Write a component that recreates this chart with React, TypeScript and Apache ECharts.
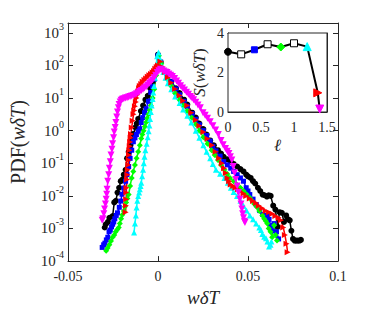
import React, { useEffect, useRef } from "react";
import * as echarts from "echarts";

// ---- data: [wδT, log10 PDF] ----
const blackPts: [number, number][] = [
  [-0.0296,-2.97],[-0.029,-2.87],[-0.0278,-2.8],[-0.027,-2.67],[-0.0252,-2.62],[-0.0243,-2.2],[-0.0234,-2.15],[-0.0225,-1.9],[-0.0216,-1.75],[-0.0207,-1.55],[-0.0198,-1.5],[-0.019,-1.35],[-0.018,-1.2],[-0.0172,-0.85],[-0.0163,-0.65],[-0.0155,-0.45],[-0.0146,-0.28],[-0.0137,-0.1],[-0.0125,0.1],[-0.0118,0.22],[-0.011,0.36],[-0.0095,0.6],[-0.0083,0.77],[-0.007,0.95],[-0.0057,1.07],[-0.0043,1.3],[-0.003,1.48],[-0.0015,1.85],[0,2.33],
  [0.0015,2.1],[0.004,1.8],[0.0074,1.5],[0.01,1.3],[0.012,1.15],[0.0145,0.95],[0.0163,0.8],[0.019,0.55],[0.021,0.4],[0.023,0.22],[0.0252,0.05],[0.027,-0.12],[0.029,-0.3],[0.031,-0.45],[0.0333,-0.6],[0.035,-0.7],[0.0365,-0.8],[0.0385,-0.88],[0.0404,-0.95],[0.042,-1.02],[0.044,-1.1],[0.0458,-1.18],[0.0475,-1.25],[0.049,-1.35],[0.05,-1.4],[0.0515,-1.45],[0.0528,-1.55],[0.054,-1.62],[0.0555,-1.75],[0.0568,-1.85],[0.0581,-1.96],[0.0592,-1.98],[0.0605,-2.02],[0.0615,-1.98],[0.0626,-2.0],[0.064,-2.3],[0.0652,-2.42],[0.0665,-2.95],[0.0675,-2.5],[0.0688,-2.52],[0.07,-2.8],[0.0712,-2.6],[0.0723,-2.72],[0.0732,-2.75],[0.0741,-3.07],[0.075,-3.32],[0.0759,-3.37],[0.0768,-3.37],[0.0777,-3.37],[0.0786,-3.37],[0.0794,-3.35],
];
const bluePts: [number, number][] = [
  [-0.031,-3.58],[-0.0302,-3.5],[-0.0295,-3.45],[-0.0287,-3.35],[-0.0279,-3.27],[-0.0272,-3.1],[-0.0265,-3.05],[-0.0258,-2.95],[-0.0252,-2.87],[-0.0246,-2.8],[-0.024,-2.7],[-0.0232,-2.6],[-0.0225,-2.52],[-0.0215,-2.35],[-0.0207,-2.16],[-0.02,-1.95],[-0.019,-1.76],[-0.018,-1.55],[-0.0172,-1.35],[-0.0163,-1.1],[-0.0155,-0.85],[-0.0146,-0.6],[-0.0137,-0.34],[-0.0128,-0.22],[-0.012,-0.12],[-0.011,-0.02],[-0.0101,0.06],[-0.0093,0.25],[-0.0085,0.4],[-0.0075,0.55],[-0.0066,0.67],[-0.0053,0.9],[-0.004,1.17],[-0.003,1.35],[-0.002,1.58],[-0.001,1.9],[0,2.3],
  [0.0015,2.1],[0.004,1.8],[0.0074,1.5],[0.01,1.28],[0.012,1.1],[0.0145,0.9],[0.0163,0.75],[0.019,0.52],[0.021,0.35],[0.023,0.18],[0.0252,0.0],[0.027,-0.15],[0.029,-0.32],[0.0305,-0.48],[0.0322,-0.62],[0.0345,-0.78],[0.0365,-0.95],[0.0385,-1.05],[0.0404,-1.15],[0.042,-1.25],[0.044,-1.35],[0.0458,-1.45],[0.0475,-1.55],[0.049,-1.75],[0.05,-1.85],[0.051,-1.96],[0.0528,-2.1],[0.0546,-2.27],[0.0565,-2.45],[0.0581,-2.57],[0.06,-2.65],[0.0608,-2.6],[0.0617,-2.72],[0.0625,-2.9],[0.0634,-3.07],[0.0645,-2.85],[0.0658,-3.1],[0.067,-3.32],
];
const greenPts: [number, number][] = [
  [-0.0288,-3.68],[-0.028,-3.6],[-0.027,-3.5],[-0.0261,-3.38],[-0.0252,-3.27],[-0.0243,-3.2],[-0.0235,-3.1],[-0.0226,-3.03],[-0.0218,-2.97],[-0.0212,-2.85],[-0.0205,-2.7],[-0.0198,-2.58],[-0.019,-2.46],[-0.0184,-2.33],[-0.0177,-2.2],[-0.017,-2.08],[-0.0163,-1.96],[-0.0155,-1.7],[-0.0146,-1.45],[-0.0137,-1.25],[-0.0128,-1.05],[-0.0119,-0.85],[-0.011,-0.65],[-0.0101,-0.45],[-0.0093,-0.24],[-0.0087,-0.12],[-0.008,0.0],[-0.0073,0.13],[-0.0066,0.26],[-0.006,0.38],[-0.0053,0.5],[-0.0046,0.63],[-0.004,0.77],[-0.003,1.0],[-0.0021,1.27],[-0.001,1.7],[0.0005,2.3],
  [0.0018,2.05],[0.003,1.85],[0.005,1.6],[0.0074,1.37],[0.0095,1.15],[0.012,0.95],[0.0142,0.78],[0.0163,0.6],[0.0187,0.4],[0.021,0.2],[0.023,0.0],[0.0252,-0.2],[0.0275,-0.4],[0.0298,-0.6],[0.0315,-0.75],[0.0333,-0.9],[0.035,-1.05],[0.0369,-1.2],[0.0385,-1.33],[0.04,-1.45],[0.042,-1.55],[0.0439,-1.66],[0.0458,-1.75],[0.0475,-1.85],[0.0492,-1.95],[0.051,-2.06],[0.0522,-2.15],[0.0535,-2.25],[0.055,-2.35],[0.0563,-2.46],[0.058,-2.6],[0.059,-2.7],[0.0599,-2.77],[0.0607,-2.85],[0.0615,-3.0],[0.0625,-3.1],[0.0634,-3.27],[0.0645,-2.9],[0.0653,-3.2],[0.0661,-3.37],
];
const cyanPts: [number, number][] = [
  [-0.0133,-3.12],[-0.0128,-2.85],[-0.0123,-2.6],[-0.0119,-2.36],[-0.0115,-2.15],[-0.011,-2.0],[-0.0105,-1.9],[-0.0101,-1.8],[-0.0097,-1.7],[-0.0093,-1.6],[-0.0088,-1.4],[-0.0083,-1.2],[-0.0079,-1.0],[-0.0075,-0.8],[-0.007,-0.6],[-0.0063,-0.4],[-0.0057,-0.2],[-0.0052,-0.02],[-0.0048,0.16],[-0.0044,0.36],[-0.004,0.57],[-0.0035,0.77],[-0.003,0.97],[-0.0026,1.17],[-0.0022,1.37],[-0.0017,1.62],[-0.0013,1.88],[-0.0005,2.28],[0.0003,2.4],
  [0.0012,2.2],[0.002,1.98],[0.003,1.8],[0.0042,1.62],[0.0055,1.45],[0.0074,1.27],[0.0095,1.05],[0.012,0.85],[0.014,0.65],[0.0163,0.46],[0.0185,0.25],[0.021,0.0],[0.023,-0.22],[0.0252,-0.45],[0.027,-0.65],[0.029,-0.85],[0.0305,-1.02],[0.0322,-1.2],[0.0345,-1.32],[0.0369,-1.45],[0.0388,-1.6],[0.0405,-1.75],[0.042,-1.88],[0.0439,-2.0],[0.0458,-2.15],[0.0475,-2.3],[0.0492,-2.45],[0.051,-2.6],[0.0528,-2.72],[0.0545,-2.85],[0.0563,-2.97],[0.0572,-3.05],[0.058,-3.17],[0.059,-3.25],[0.06,-3.3],[0.0608,-3.4],[0.0617,-3.55],[0.0625,-3.5],[0.063,-3.4],
];
const redPts: [number, number][] = [
  [-0.018,-2.5],[-0.0178,-2.3],[-0.0177,-2.1],[-0.0176,-1.9],[-0.0175,-1.75],[-0.0172,-1.5],[-0.017,-1.35],[-0.0168,-1.2],[-0.0165,-1.05],[-0.0163,-0.9],[-0.0161,-0.75],[-0.0159,-0.6],[-0.0157,-0.48],[-0.0155,-0.35],[-0.0152,-0.22],[-0.015,-0.1],[-0.0146,0.1],[-0.0141,0.3],[-0.0136,0.5],[-0.0132,0.62],[-0.0128,0.75],[-0.0123,0.88],[-0.0119,1.0],[-0.0115,1.1],[-0.011,1.2],[-0.0105,1.3],[-0.0101,1.37],[-0.0093,1.43],[-0.0085,1.5],[-0.0075,1.55],[-0.0066,1.6],[-0.0057,1.65],[-0.0048,1.7],[-0.0039,1.74],[-0.003,1.78],[-0.0022,1.83],[-0.0015,1.9],[-0.0007,1.95],[0,2.0],[0.0014,2.12],
  [0.0025,1.95],[0.004,1.8],[0.0055,1.63],[0.0074,1.47],[0.0095,1.28],[0.012,1.08],[0.014,0.92],[0.0163,0.77],[0.0185,0.55],[0.021,0.33],[0.023,0.15],[0.0252,-0.04],[0.0275,-0.25],[0.03,-0.45],[0.032,-0.65],[0.034,-0.85],[0.0355,-1.0],[0.0367,-1.15],[0.0377,-1.3],[0.0386,-1.45],[0.0395,-1.55],[0.0404,-1.65],[0.0418,-1.7],[0.043,-1.75],[0.0444,-1.8],[0.0457,-1.86],[0.0475,-1.93],[0.049,-2.0],[0.051,-2.08],[0.0528,-2.16],[0.0545,-2.22],[0.056,-2.3],[0.058,-2.38],[0.0599,-2.46],[0.0617,-2.5],[0.0635,-2.55],[0.0652,-2.62],[0.067,-2.67],[0.0683,-2.75],[0.0696,-2.97],[0.0705,-3.2],[0.0714,-3.47],[0.072,-3.73],
];
const magentaPts: [number, number][] = [
  [-0.031,-2.75],[-0.0306,-2.7],[-0.0301,-2.55],[-0.0297,-2.4],[-0.0292,-2.25],[-0.0288,-2.1],[-0.0285,-1.95],[-0.0283,-1.8],[-0.0279,-1.55],[-0.0274,-1.35],[-0.027,-1.15],[-0.0265,-0.95],[-0.0261,-0.75],[-0.0256,-0.57],[-0.0252,-0.4],[-0.0247,-0.22],[-0.0243,-0.04],[-0.0238,0.1],[-0.0234,0.25],[-0.0229,0.42],[-0.0225,0.57],[-0.022,0.7],[-0.0216,0.8],[-0.021,0.88],[-0.0205,0.93],[-0.0198,0.96],[-0.019,0.98],[-0.0181,1.0],[-0.0172,1.01],[-0.0163,1.03],[-0.0155,1.05],[-0.0146,1.06],[-0.0137,1.08],[-0.0128,1.1],[-0.0119,1.13],[-0.011,1.16],[-0.0101,1.2],[-0.0092,1.23],[-0.0083,1.27],[-0.0075,1.31],[-0.0066,1.35],[-0.0057,1.4],[-0.0048,1.45],[-0.0039,1.5],[-0.003,1.55],[-0.0022,1.62],[-0.0013,1.7],[-0.0004,1.78],[0.0005,1.84],[0.0014,1.88],
  [0.0023,1.86],[0.0032,1.83],[0.0041,1.8],[0.005,1.78],[0.006,1.74],[0.007,1.7],[0.008,1.66],[0.0092,1.6],[0.0103,1.52],[0.0114,1.45],[0.0125,1.38],[0.0136,1.31],[0.0147,1.25],[0.0158,1.18],[0.0169,1.12],[0.018,1.05],[0.0189,1.0],[0.0198,0.95],[0.021,0.87],[0.0222,0.79],[0.0235,0.7],[0.025,0.55],[0.0262,0.47],[0.0275,0.38],[0.029,0.27],[0.0305,0.15],[0.032,0.02],[0.0335,-0.12],[0.035,-0.3],[0.0362,-0.43],[0.0375,-0.55],[0.0385,-0.63],[0.0394,-0.7],[0.0402,-0.8],[0.041,-0.9],[0.0418,-1.1],[0.0425,-1.3],[0.0432,-1.5],[0.044,-1.7],[0.0447,-1.9],[0.0455,-2.1],[0.0461,-2.25],[0.0466,-2.4],[0.047,-2.55],[0.0475,-2.67],[0.048,-2.78],[0.0483,-2.82],
];

// inset: skewness S(wδT) vs ℓ
const insetEll = [0, 0.2, 0.4, 0.6, 0.8, 1.0, 1.2, 1.36, 1.39];
const insetS = [3.05, 2.92, 3.15, 3.43, 3.29, 3.48, 3.31, 0.97, 0.15];

const xTicks = { min: -0.05, max: 0.1, interval: 0.05 };
const yRange = { min: 1e-4, max: 2000 };

const FONT = "'Liberation Serif', 'DejaVu Serif', serif";
const AX = "#262626";

const toPdf = (pts: [number, number][]) => pts.map(([x, l]) => [x, Math.pow(10, l)]);

const insetStyles = [
  { symbol: "circle", color: "#000", border: "#000", size: 7, rot: 0 },
  { symbol: "rect", color: "#fff", border: "#000", size: 7, rot: 0 },
  { symbol: "rect", color: "#0000ff", border: "#0000ff", size: 6, rot: 0 },
  { symbol: "rect", color: "#fff", border: "#000", size: 7, rot: 0 },
  { symbol: "diamond", color: "#00ff00", border: "#00ff00", size: 8, rot: 0 },
  { symbol: "rect", color: "#fff", border: "#000", size: 7, rot: 0 },
  { symbol: "triangle", color: "#00ffff", border: "#00ffff", size: 8, rot: 0 },
  { symbol: "triangle", color: "#ff0000", border: "#ff0000", size: 8, rot: -90 },
  { symbol: "triangle", color: "#ff00ff", border: "#ff00ff", size: 8, rot: 180 },
];

export default function App() {
  const ref = useRef<HTMLDivElement>(null);
  useEffect(() => {
    if (!ref.current) return;
    const chart = echarts.init(ref.current, undefined, { renderer: "svg" });
    const tick = (len: number) => ({ show: true, inside: true, length: len, lineStyle: { color: AX, width: 1 } });
    const line = { show: true, onZero: false, lineStyle: { color: AX, width: 1 } };
    const mkSeries = (name: string, pts: [number, number][], color: string, symbol: string, size: number, rot: number) => ({
      name,
      type: "line",
      xAxisIndex: 0,
      yAxisIndex: 0,
      data: toPdf(pts),
      symbol,
      symbolSize: size,
      symbolRotate: rot,
      showAllSymbol: true,
      lineStyle: { color, width: 1.5 },
      itemStyle: { color, borderColor: color, borderWidth: 0 },
      clip: true,
    });
    chart.setOption({
      animation: false,
      backgroundColor: "#fff",
      textStyle: { fontFamily: FONT },
      grid: [
        { left: 57, right: 36, top: 23, bottom: 48, show: false },
        { left: 228, top: 33, width: 99, height: 79, show: true, backgroundColor: "#fff", borderColor: AX, borderWidth: 1, z: 10 },
      ],
      xAxis: [
        {
          gridIndex: 0, type: "value", ...xTicks, position: "bottom",
          axisLine: line, axisTick: tick(5), splitLine: { show: false },
          axisLabel: { color: "#262626", fontSize: 14, fontFamily: FONT, margin: 8 },
          name: "wδT", nameLocation: "middle", nameGap: 18,
          nameTextStyle: { fontSize: 19, fontStyle: "italic", fontFamily: FONT, color: "#262626" },
        },
        {
          gridIndex: 0, type: "value", ...xTicks, position: "top",
          axisLine: line, axisTick: tick(5), axisLabel: { show: false }, splitLine: { show: false },
        },
        {
          gridIndex: 1, type: "value", min: 0, max: 1.5, interval: 0.5, position: "bottom",
          axisLine: line, axisTick: tick(3), splitLine: { show: false },
          axisLabel: { color: "#262626", fontSize: 14, fontFamily: FONT, margin: 8 },
          name: "ℓ", nameLocation: "middle", nameGap: 25,
          nameTextStyle: { fontSize: 17, fontStyle: "italic", fontFamily: FONT, color: "#262626" },
        },
        {
          gridIndex: 1, type: "value", min: 0, max: 1.5, interval: 0.5, position: "top",
          axisLine: line, axisTick: tick(3), axisLabel: { show: false }, splitLine: { show: false },
        },
      ],
      yAxis: [
        {
          gridIndex: 0, type: "log", logBase: 10, ...yRange, position: "left",
          axisLine: line, axisTick: tick(5), splitLine: { show: false }, minorSplitLine: { show: false },
          axisLabel: {
            showMaxLabel: false,
            margin: 4,
            formatter: (v: number) => {
              const e = Math.log10(v);
              const r = Math.round(e);
              if (Math.abs(e - r) > 0.01) return "";
              return "{b|10}{s|" + r + "}";
            },
            rich: {
              b: { fontSize: 15, fontFamily: FONT, color: "#262626", lineHeight: 15, verticalAlign: "bottom" },
              s: { fontSize: 10, fontFamily: FONT, color: "#262626", lineHeight: 10, verticalAlign: "bottom", padding: [0, 0, 9, 0] },
            },
          },
          name: "{r|PDF(}{i|wδT}{r|)}", nameLocation: "middle", nameGap: 40,
          nameTextStyle: {
            rich: {
              r: { fontSize: 20, fontFamily: FONT, color: "#262626" },
              i: { fontSize: 20, fontFamily: FONT, fontStyle: "italic", color: "#262626" },
            },
          },
        },
        {
          gridIndex: 0, type: "log", logBase: 10, ...yRange, position: "right",
          axisLine: line, axisTick: tick(5), axisLabel: { show: false }, splitLine: { show: false },
        },
        {
          gridIndex: 1, type: "value", min: 0, max: 4, interval: 2, position: "left",
          axisLine: line, axisTick: tick(3), splitLine: { show: false },
          axisLabel: { color: "#262626", fontSize: 14, fontFamily: FONT, margin: 4 },
          name: "{i|S}{r|(}{i|wδT}{r|)}", nameLocation: "middle", nameGap: 20,
          nameTextStyle: {
            rich: {
              r: { fontSize: 17, fontFamily: FONT, color: "#262626" },
              i: { fontSize: 17, fontFamily: FONT, fontStyle: "italic", color: "#262626" },
            },
          },
        },
        {
          gridIndex: 1, type: "value", min: 0, max: 4, interval: 2, position: "right",
          axisLine: line, axisTick: tick(3), axisLabel: { show: false }, splitLine: { show: false },
        },
      ],
      series: [
        mkSeries("black", blackPts, "#000000", "circle", 6, 0),
        mkSeries("blue", bluePts, "#0000ff", "rect", 5, 0),
        mkSeries("green", greenPts, "#00ff00", "diamond", 6, 0),
        mkSeries("cyan", cyanPts, "#00ffff", "triangle", 6, 0),
        mkSeries("red", redPts, "#ff0000", "triangle", 6, -90),
        mkSeries("magenta", magentaPts, "#ff00ff", "triangle", 7, 180),
        {
          name: "skewness",
          type: "line",
          xAxisIndex: 2,
          yAxisIndex: 2,
          z: 12,
          lineStyle: { color: "#000", width: 2 },
          showAllSymbol: true,
          data: insetEll.map((l, i) => ({
            value: [l, insetS[i]],
            symbol: insetStyles[i].symbol,
            symbolSize: insetStyles[i].size,
            symbolRotate: insetStyles[i].rot,
            itemStyle: { color: insetStyles[i].color, borderColor: insetStyles[i].border, borderWidth: 1 },
          })),
        },
      ],
    });
    return () => chart.dispose();
  }, []);
  return <div ref={ref} style={{ position: "absolute", left: 0, top: 0, width: 374, height: 312 }} />;
}
